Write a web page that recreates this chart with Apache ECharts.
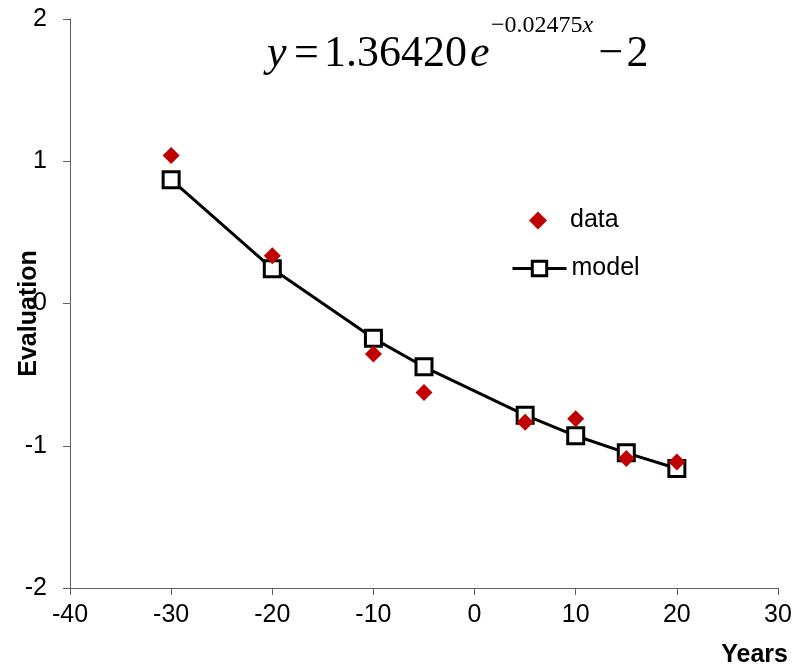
<!DOCTYPE html>
<html>
<head>
<meta charset="utf-8">
<script src="https://cdn.jsdelivr.net/npm/echarts@6/dist/echarts.min.js"></script>
<style>
  html, body { margin: 0; padding: 0; background: #fff; }
  #chart { width: 811px; height: 664px; }
</style>
</head>
<body>
<div id="chart"></div>
<script>
// Years relative to the reference point
const years = [-30, -20, -10, -5, 5, 10, 15, 20];
// Observed evaluation values
const dataValues = [1.04, 0.335, -0.355, -0.625, -0.835, -0.81, -1.09, -1.115];
// Fitted exponential model at the same years
const modelValues = [0.87, 0.245, -0.245, -0.445, -0.785, -0.93, -1.05, -1.16];

const xTicks = { min: -40, max: 30, interval: 10 };
const yTicks = { min: -2, max: 2, interval: 1 };

const pairs = (xs, ys) => xs.map((x, i) => [x, ys[i]]);

const chart = echarts.init(document.getElementById('chart'));
const axisColor = '#606060';
const sans = '"Liberation Sans", Arial, sans-serif';
const serif = '"Liberation Serif", "Times New Roman", serif';

// Rich-text styles for the fitted equation
const eqMain = { fontFamily: serif, fontSize: 44, lineHeight: 82, height: 82, verticalAlign: 'bottom', align: 'left' };
const eqSup = { fontFamily: serif, fontSize: 24, lineHeight: 26, height: 26, verticalAlign: 'top', align: 'left' };

const legendText = { color: '#000', fontSize: 25, fontFamily: sans };

chart.setOption({
  animation: false,
  backgroundColor: '#fff',
  grid: { left: 70, right: 33, top: 19, bottom: 76, containLabel: false, outerBoundsMode: 'none' },
  xAxis: {
    type: 'value',
    min: xTicks.min, max: xTicks.max, interval: xTicks.interval,
    splitLine: { show: false },
    axisLine: { onZero: false, lineStyle: { color: axisColor, width: 1 } },
    axisTick: { inside: false, length: 7, lineStyle: { color: axisColor } },
    axisLabel: { margin: 15, color: '#000', fontSize: 25, fontFamily: sans },
    name: 'Years',
    nameLocation: 'end',
    nameGap: 10,
    nameMoveOverlap: false,
    nameTextStyle: {
      color: '#000', fontSize: 25, fontWeight: 'bold', fontFamily: sans,
      align: 'right', verticalAlign: 'top', padding: [55, 0, 0, 0]
    }
  },
  yAxis: {
    type: 'value',
    min: yTicks.min, max: yTicks.max, interval: yTicks.interval,
    splitLine: { show: false },
    axisLine: { show: true, onZero: false, lineStyle: { color: axisColor, width: 1 } },
    axisTick: { show: true, inside: false, length: 7, lineStyle: { color: axisColor } },
    axisLabel: { margin: 23, color: '#000', fontSize: 25, fontFamily: sans },
    name: 'Evaluation',
    nameLocation: 'middle',
    nameRotate: 90,
    nameGap: 28,
    nameMoveOverlap: false,
    nameTextStyle: {
      color: '#000', fontSize: 25, fontWeight: 'bold', fontFamily: sans,
      padding: [0, 20, 0, 0]
    }
  },
  legend: [
    {
      // diamond key for the observed values
      orient: 'vertical',
      left: 524,
      top: 203,
      itemWidth: 18,
      itemHeight: 18,
      textStyle: Object.assign({ padding: [0, 0, 0, 18] }, legendText),
      data: [{ name: 'data', icon: 'diamond' }]
    },
    {
      // line-and-square key for the model
      orient: 'vertical',
      left: 506,
      top: 251,
      itemWidth: 54,
      itemHeight: 18,
      textStyle: legendText,
      data: [{
        name: 'model',
        lineStyle: { width: 3, color: '#000' },
        itemStyle: { color: '#fff', borderColor: '#000', borderWidth: 3 }
      }]
    }
  ],
  graphic: [{
    type: 'text',
    left: 267,
    top: 13,
    style: {
      text: '{y|y}{eq|=}{c|1.36420}{e|e}{s|−0.02475}{sx|x}{m|−}{two|2}',
      fill: '#000',
      rich: {
        y: Object.assign({}, eqMain, { fontStyle: 'italic', width: 27 }),
        eq: Object.assign({}, eqMain, { width: 30 }),
        c: Object.assign({}, eqMain, { width: 146 }),
        e: Object.assign({}, eqMain, { fontStyle: 'italic', width: 21 }),
        s: Object.assign({}, eqSup),
        sx: Object.assign({}, eqSup, { fontStyle: 'italic', width: 16 }),
        m: Object.assign({}, eqMain, { width: 28 }),
        two: Object.assign({}, eqMain)
      }
    }
  }],
  series: [
    {
      name: 'model',
      type: 'line',
      data: pairs(years, modelValues),
      symbol: 'rect',
      symbolSize: 16,
      lineStyle: { color: '#000', width: 3 },
      itemStyle: { color: '#fff', borderColor: '#000', borderWidth: 3 },
      z: 2
    },
    {
      name: 'data',
      type: 'scatter',
      data: pairs(years, dataValues),
      symbol: 'diamond',
      symbolSize: 17,
      itemStyle: { color: '#c00000', opacity: 1 },
      z: 3
    }
  ]
});
</script>
</body>
</html>
